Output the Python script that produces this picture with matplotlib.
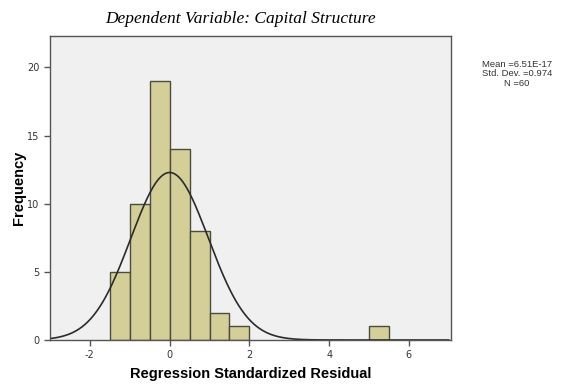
import matplotlib.pyplot as plt
import numpy as np

# histogram of standardized residuals (bin width 0.5)
bin_lefts = [-1.5, -1.0, -0.5, 0.0, 0.5, 1.0, 1.5, 5.0]
counts = [5, 10, 19, 14, 8, 2, 1, 1]
bin_width = 0.5

mean = 6.51e-17
std = 0.974
n = 60

x_ticks = [-2, 0, 2, 4, 6]
x_labels = ['-2', '0', '2', '4', '6']
y_ticks = [0, 5, 10, 15, 20]

fig = plt.figure(figsize=(5.67, 3.88), dpi=100)
ax = fig.add_axes([0.0882, 0.1237, 0.7068, 0.7835])
ax.set_facecolor('#f0f0f0')

ax.bar(bin_lefts, counts, width=bin_width, align='edge',
       color='#d4cf98', edgecolor='#4b4b3e', linewidth=1.0)

xs = np.linspace(-3, 7, 400)
pdf = np.exp(-0.5 * ((xs - mean) / std) ** 2) / (std * np.sqrt(2 * np.pi))
ax.plot(xs, n * bin_width * pdf, color='#2b2b2b', linewidth=1.2)

ax.set_xlim(-3, 7.05)
ax.set_ylim(0, 22.3)
ax.set_xticks(x_ticks)
ax.set_xticklabels(x_labels)
ax.set_yticks(y_ticks)
ax.tick_params(labelsize=7, labelcolor='#333333', length=4, width=1, color='#555555')
for s in ax.spines.values():
    s.set_color('#555555')
    s.set_linewidth(1.0)

ax.set_xlabel('Regression Standardized Residual', fontsize=10.5, fontweight='bold',
              family='Liberation Sans', labelpad=5)
ax.set_ylabel('Frequency', fontsize=10.5, fontweight='bold', family='Liberation Sans')
ax.yaxis.set_label_coords(-0.06, 0.5)

fig.text(0.425, 0.952, 'Dependent Variable: Capital Structure', ha='center', va='center',
         fontsize=12.5, style='italic', family='Liberation Serif')

fig.text(0.912, 0.81, 'Mean =6.51E-17\nStd. Dev. =0.974\nN =60', ha='center', va='center',
         fontsize=6.8, color='#333333', linespacing=1.05, family='Liberation Sans')

fig.savefig('out.png', dpi=100, facecolor='white')
